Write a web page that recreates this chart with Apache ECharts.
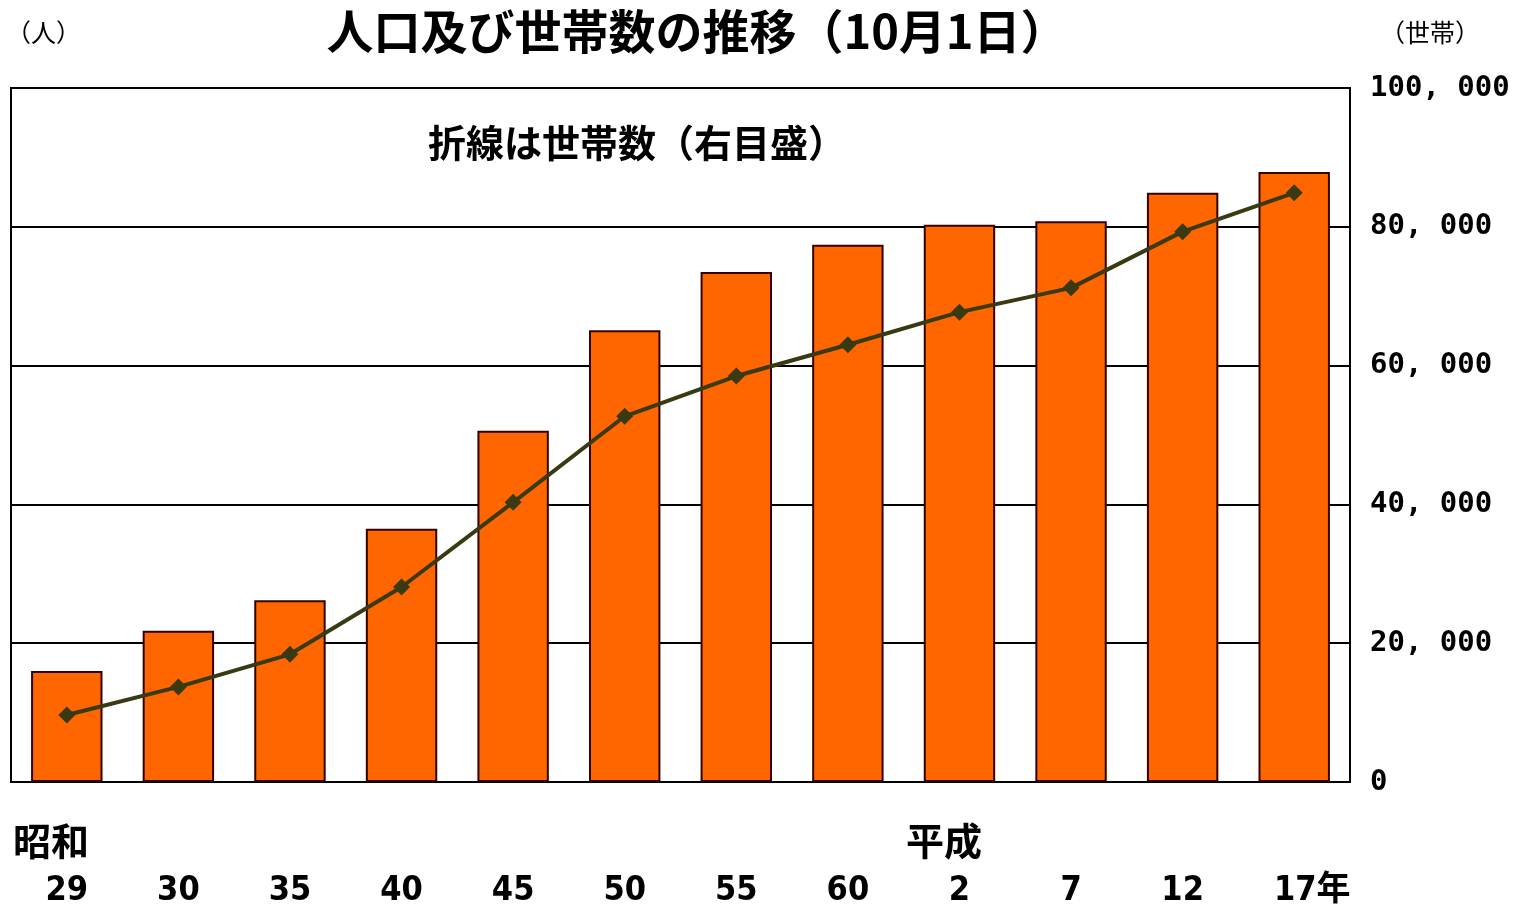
<!DOCTYPE html>
<html><head><meta charset="utf-8">
<script src="https://cdn.jsdelivr.net/npm/echarts@6/dist/echarts.min.js"></script>
<style>html,body{margin:0;padding:0;background:#fff}#c{width:1533px;height:907px}</style>
</head><body><div id="c"></div>
<script>
const categories = ['29','30','35','40','45','50','55','60','2','7','12','17年'];
const population = [16000,21800,26200,36500,50600,65100,73500,77400,80300,80800,84900,87900];
const households = [9650,13700,18400,28100,40300,52700,58500,63000,67700,71200,79300,84900];
const rightTicks = [0,20000,40000,60000,80000,100000];

const chart = echarts.init(document.getElementById('c'));
const jp = '"Noto Sans CJK JP", sans-serif';
const num = '"DejaVu Sans Condensed", "Noto Sans CJK JP", sans-serif';
chart.setOption({
  animation:false,
  backgroundColor:'#fff',
  grid:{left:11,right:183,top:88,bottom:125,show:true,borderColor:'#000',borderWidth:2,backgroundColor:'transparent',outerBoundsMode:'none',containLabel:false},
  title:{text:'人口及び世帯数の推移（10月1日）',left:692,top:3,textAlign:'center',
    textStyle:{fontFamily:jp,fontSize:47,fontWeight:'bold',color:'#000'}},
  graphic:[
    {type:'text',left:6,top:20,style:{text:'（人）',font:'25px '+jp,fill:'#000'}},
    {type:'text',left:1380,top:20,style:{text:'（世帯）',font:'25px '+jp,fill:'#000'}},
    {type:'text',left:428,top:124,style:{text:'折線は世帯数（右目盛）',font:'bold 38px '+jp,fill:'#000'}},
    {type:'text',left:13,top:822,style:{text:'昭和',font:'bold 38px '+jp,fill:'#000'}},
    {type:'text',left:906,top:822,style:{text:'平成',font:'bold 38px '+jp,fill:'#000'}}
  ],
  xAxis:{type:'category',data:categories,
    axisLine:{show:true,lineStyle:{color:'#000',width:2}},axisTick:{show:false},
    axisLabel:{interval:0,margin:92,color:'#000',fontFamily:num,fontWeight:'bold',fontSize:34,
      formatter:function(v){return v==='17年'?'{p|}{a|'+v+'}':'{a|'+v+'}';},
      rich:{p:{width:36},a:{fontFamily:num,fontWeight:'bold',fontSize:34,color:'#000'}}}},
  yAxis:[
    {type:'value',min:0,max:100000,interval:20000,position:'left',
      axisLine:{show:true,lineStyle:{color:'#000',width:2}},axisTick:{show:false},
      axisLabel:{show:false},splitLine:{show:false}},
    {type:'value',min:rightTicks[0],max:rightTicks[rightTicks.length-1],interval:20000,position:'right',
      axisLine:{show:true,lineStyle:{color:'#000',width:2}},axisTick:{show:false},
      splitLine:{show:true,lineStyle:{color:'#000',width:2}},
      axisLabel:{margin:20,color:'#000',fontFamily:'"DejaVu Sans Mono", monospace',fontWeight:'bold',fontSize:29,
        formatter:function(v){return v===0?'0':echarts.format.addCommas(v).replace(',',', ');}}}
  ],
  series:[
    {type:'bar',yAxisIndex:0,data:population,barWidth:'64%',
      itemStyle:{color:'#FF6600',borderColor:'#330000',borderWidth:2}},
    {type:'line',yAxisIndex:1,data:households,symbol:'diamond',symbolSize:17,
      lineStyle:{color:'#3a3a12',width:4},itemStyle:{color:'#3a3a12'}}
  ]
});
</script></body></html>
